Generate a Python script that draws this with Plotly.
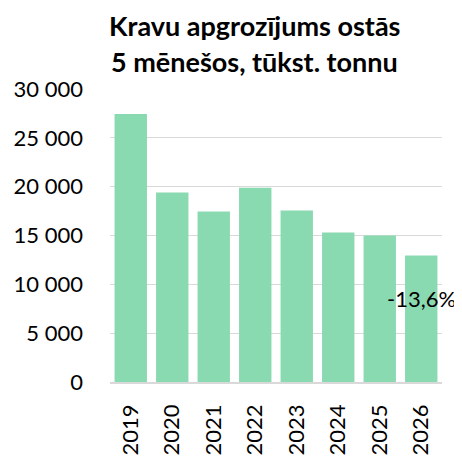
import plotly.graph_objects as go

years = ["2019", "2020", "2021", "2022", "2023", "2024", "2025", "2026"]
values = [27450, 19400, 17450, 19900, 17550, 15300, 15000, 12960]
change_label = "-13,6%"
title_lines = ["Kravu apgrozījums ostās", "5 mēnešos, tūkst. tonnu"]
tick_vals = [0, 5000, 10000, 15000, 20000, 25000, 30000]
tick_text = ["0", "5 000", "10 000", "15 000", "20 000", "25 000", "30 000"]

font = "Lato, Carlito, Calibri, sans-serif"
PLOT_H = 293.0
TOP = 81
TITLE_SIZE = 27

fig = go.Figure(go.Bar(
    x=years, y=values,
    marker=dict(color="#89d9b1"),
    hoverinfo="skip",
))

fig.add_annotation(
    x=len(years) - 1, y=8600, text=change_label, showarrow=False,
    font=dict(family=font, size=22, color="#000000"),
    xanchor="center", yanchor="middle",
)

fig.add_annotation(
    xref="paper", yref="paper", x=0.434, y=1 + TOP / PLOT_H,
    text="<b>" + title_lines[0] + "</b>", showarrow=False, borderpad=0,
    font=dict(family=font, size=TITLE_SIZE, color="#000000"),
    xanchor="center", yanchor="top",
)
fig.add_annotation(
    xref="paper", yref="paper", x=0.434, y=1 + (TOP - 36) / PLOT_H,
    text="<b>" + title_lines[1] + "</b>", showarrow=False, borderpad=0,
    font=dict(family=font, size=TITLE_SIZE, color="#000000"),
    xanchor="center", yanchor="top",
)

fig.update_layout(
    template="none",
    width=454, height=448,
    margin=dict(l=102, r=20, t=TOP, b=74, autoexpand=False),
    paper_bgcolor="white", plot_bgcolor="white",
    bargap=0.22,
    showlegend=False,
    font=dict(family=font, size=22, color="#000000"),
)

fig.update_yaxes(
    range=[0, 30000], tickvals=tick_vals, ticktext=tick_text,
    showgrid=True, gridcolor="#d9d9d9", gridwidth=1.3,
    zeroline=False, showline=False, ticks="", ticklabelstandoff=26,
    automargin=False,
    tickfont=dict(family=font, size=22, color="#000000"),
)
fig.update_xaxes(
    type="category", range=[-0.5, len(years) - 0.5],
    showgrid=False, zeroline=False,
    showline=True, linecolor="#d9d9d9", linewidth=1.5,
    tickangle=-90, ticks="", ticklabelstandoff=12,
    automargin=False,
    tickfont=dict(family=font, size=22, color="#000000"),
)

fig.write_html("out.html")
